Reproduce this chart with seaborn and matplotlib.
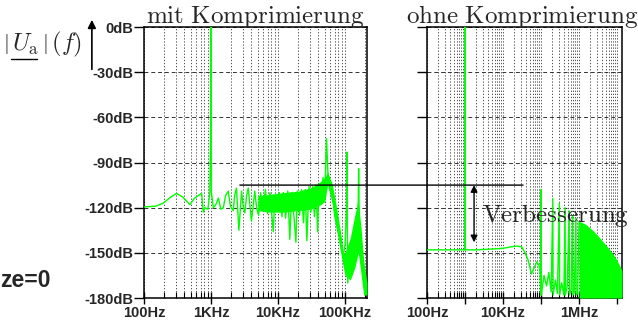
import numpy as np
import pandas as pd
import matplotlib
matplotlib.use('Agg')
import matplotlib.pyplot as plt
import seaborn as sns
from matplotlib.ticker import LogLocator, FixedLocator, FixedFormatter, NullFormatter
from matplotlib.patches import ConnectionPatch, FancyArrowPatch
from matplotlib.lines import Line2D

# --- data (frequency in Hz, level in dB) ---
mit_freq = [100, 150, 194, 250, 307, 380, 486, 560, 640, 726, 767, 805, 900, 960,
            990, 995, 1000, 1005, 1015, 1030, 1082, 1180, 1290, 1400, 1530, 1650,
            1810, 1950, 2150, 2250, 2400, 2610, 2860, 3000, 3200, 3400, 3600, 4020,
            4500, 4800, 5130, 5500, 6000, 6500, 7000, 7600, 8500, 9000, 9800, 10500,
            11500, 12000, 13000, 14000, 15000, 16000, 17500, 18500, 19500, 21000,
            22500, 24000, 25500, 27000, 29000, 31000, 33000, 35000, 37000, 39000,
            41000, 44000, 47000, 50000, 53000, 56000, 63000, 70000, 78000, 85000,
            90000, 94000, 100000, 106000, 107000, 108000, 110000, 120000, 130000,
            140000, 150000, 158000, 160000, 163000, 175000, 185000, 200000, 213000]
mit_db = [-119.5, -119, -117, -113, -110.5, -113, -118, -114, -112, -110.5, -123, -120,
          -121, -110, -65, -35, 0, -40, -110, -112, -120, -118, -113.6, -121, -120,
          -112, -109, -119, -122, -112, -107, -135, -109, -118, -123.5, -112, -107,
          -129, -109, -120, -125, -110, -120, -108, -124, -110, -136, -112, -122,
          -110, -126, -110, -127, -109, -141, -110, -128, -143, -109, -125, -108,
          -130, -108, -142, -106, -123, -106, -126, -105, -136, -104, -118, -100,
          -112, -74, -100, -104, -125, -135, -139, -150, -152, -145, -120, -83,
          -120, -170, -150, -158, -130, -140, -115, -94, -130, -150, -165, -177, -170]

# dense noise band of the compressed signal
band_freq = [5000, 8000, 12000, 20000, 30000, 40000, 50000, 55000, 65000, 75000,
             85000, 95000, 100000, 120000, 140000, 158000, 175000, 190000, 213000]
band_hi = [-112, -111, -110, -109, -107, -104, -100, -96, -105, -120, -135, -150,
           -150, -140, -125, -115, -135, -155, -170]
band_lo = [-122, -123, -123, -122, -121, -119, -116, -105, -118, -135, -148, -160,
           -165, -168, -160, -150, -165, -178, -178]

ohne_freq = [100, 990, 1000, 1010, 2000, 5000, 10000, 16000, 23000, 31000, 38000,
             46000, 56000, 66000, 77000, 88000, 94000, 99000, 100000, 102000, 120000,
             140000, 160000, 185000, 204000, 208000, 240000, 270000, 303000, 308000,
             350000, 400000, 430000, 437000, 490000, 550000, 560000, 620000, 680000,
             690000, 750000, 830000, 840000, 920000, 1000000]
ohne_db = [-148, -148, 0, -148, -148, -147.5, -147, -146, -145.5, -146, -150, -155,
           -164, -160, -156, -158, -162, -178, -108, -178, -165, -172, -163, -176,
           -114, -178, -168, -177, -117, -178, -170, -178, -120, -178, -172, -122,
           -178, -174, -125, -178, -176, -127, -178, -177, -129]

# filled high-frequency part of the uncompressed signal
fill_freq = [1000000, 1500000, 2400000, 3500000, 5400000, 7500000, 9700000, 12600000, 13500000]
fill_top = [-129, -131, -135.5, -140, -145.6, -150, -154.4, -160, -162]

db_ticks = [0, -30, -60, -90, -120, -150, -180]
db_labels = ['0dB', '-30dB', '-60dB', '-90dB', '-120dB', '-150dB', '-180dB']
mit_xticks = [1e2, 1e3, 1e4, 1e5]
mit_xlabels = ['100Hz', '1KHz', '10KHz', '100KHz']
ohne_xticks = [1e2, 1e3, 1e4, 1e5, 1e6, 1e7]
ohne_xlabels = ['100Hz', '', '10KHz', '', '1MHz', '']

ref_level = -105       # black reference line
improved_level = -143  # lower end of the arrow

sns.set_theme(style='white')
plt.rcParams['font.family'] = ['Liberation Sans', 'DejaVu Sans']
plt.rcParams['mathtext.fontset'] = 'cm'

green = '#00ff00'

fig = plt.figure(figsize=(6.38, 3.22), dpi=100)
ax1 = fig.add_axes([0.2257, 0.0745, 0.3495, 0.8416])
ax2 = fig.add_axes([0.6693, 0.0745, 0.3056, 0.8416])

mit = pd.DataFrame({'f': mit_freq, 'db': mit_db})
ohne = pd.DataFrame({'f': ohne_freq, 'db': ohne_db})

ax1.fill_between(band_freq, band_lo, band_hi, color=green, lw=0, zorder=3)
sns.lineplot(data=mit, x='f', y='db', ax=ax1, color=green, lw=1.0,
             sort=False, estimator=None, zorder=4)
ax2.fill_between(fill_freq, [-180] * len(fill_freq), fill_top, color=green, lw=0, zorder=3)
sns.lineplot(data=ohne, x='f', y='db', ax=ax2, color=green, lw=1.0,
             sort=False, estimator=None, zorder=4)

for ax, xmax, xt, xl in [(ax1, 2.13e5, mit_xticks, mit_xlabels),
                         (ax2, 1.35e7, ohne_xticks, ohne_xlabels)]:
    ax.set_xscale('log')
    ax.set_xlim(100, xmax)
    ax.set_ylim(-180, 0)
    ax.set_xlabel('')
    ax.set_ylabel('')
    ax.xaxis.set_major_locator(FixedLocator(xt))
    ax.xaxis.set_major_formatter(FixedFormatter(xl))
    ax.xaxis.set_minor_locator(LogLocator(base=10, subs=np.arange(2, 10), numticks=20))
    ax.xaxis.set_minor_formatter(NullFormatter())
    ax.set_yticks(db_ticks)
    ax.tick_params(axis='y', direction='out', length=7.5, width=1, pad=0.5,
                   labelsize=10.5, color='black', left=True)
    ax.tick_params(axis='x', which='major', direction='inout', length=9, width=1,
                   labelsize=10.5, pad=1, color='black', bottom=True)
    ax.tick_params(axis='x', which='minor', direction='in', length=4, width=0.8,
                   color='black', bottom=True)
    ax.grid(True, axis='x', which='both', ls=(0, (1.5, 2.2)), color='#333333', lw=0.6)
    ax.grid(True, axis='y', which='major', ls=(0, (4, 3)), color='#333333', lw=0.7)
    for s in ax.spines.values():
        s.set_color('black')
        s.set_linewidth(1.1)
    for lab in ax.get_xticklabels() + ax.get_yticklabels():
        lab.set_fontweight('bold')

ax1.set_yticklabels(db_labels)
ax2.set_yticklabels([''] * len(db_ticks))

ax1.text(0.5, 1.016, r'$\mathrm{mit\ Komprimierung}$', transform=ax1.transAxes,
         ha='center', va='baseline', fontsize=18)
ax2.text(0.49, 1.016, r'$\mathrm{ohne\ Komprimierung}$', transform=ax2.transAxes,
         ha='center', va='baseline', fontsize=18, clip_on=False)

# reference line spanning both panels
con = ConnectionPatch(xyA=(2.7e3, ref_level), coordsA=ax1.transData,
                      xyB=(3.36e4, ref_level), coordsB=ax2.transData,
                      color='black', lw=1.0, zorder=6)
fig.add_artist(con)

ax2.annotate('', xy=(1.73e3, improved_level), xytext=(1.73e3, ref_level),
             arrowprops=dict(arrowstyle='<|-|>', color='black', lw=1.0,
                             mutation_scale=10, shrinkA=0, shrinkB=0), zorder=6)
ax2.text(2.85e3, -129.5, r'$\mathrm{Verbesserung}$', ha='left', va='baseline',
         fontsize=18, clip_on=False, zorder=7)

# axis label (U_a underlined by hand) with upward arrow
ylab = fig.text(0.066, 0.862, '', ha='center', va='center', fontsize=17.5)
for cand in [r'$\left|\,\vphantom{\int}U_{\mathrm{a}}\,\right|\,(f)$',
             r'$\left|\,U_{\mathrm{a}}\,\right|\,(f)$']:
    ylab.set_text(cand)
    try:
        fig.canvas.draw()
        break
    except ValueError:
        continue
fig.add_artist(Line2D([0.017, 0.058], [0.818, 0.818], transform=fig.transFigure,
                      color='black', lw=1.0))
fig.add_artist(FancyArrowPatch(
    (0.144, 0.776), (0.144, 0.947), transform=fig.transFigure,
    arrowstyle='-|>', mutation_scale=12, color='black', lw=1.2))
fig.text(0.0, 0.13, 'ze=0', ha='left', va='center', fontsize=16.5, fontweight='bold')

fig.savefig('out.png', dpi=100)
